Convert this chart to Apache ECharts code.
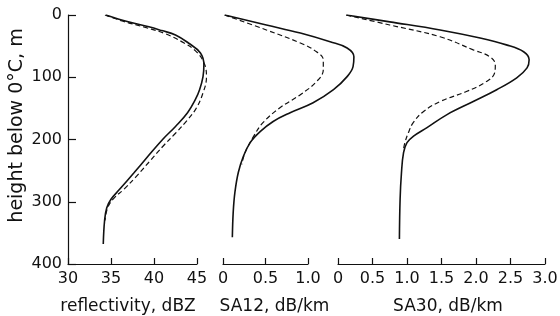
<!DOCTYPE html>
<html>
<head>
<meta charset="utf-8">
<script src="https://cdn.jsdelivr.net/npm/echarts@6/dist/echarts.min.js"></script>
<style>
  html, body { margin: 0; padding: 0; background: #fff; }
  #chart { width: 560px; height: 316px; }
</style>
</head>
<body>
<div id="chart"></div>
<script>
// height below 0°C (m) and values
var reflSolidH = [0, 11, 19, 25, 32, 45, 61, 80, 99, 120, 136, 157, 179, 200, 227, 253, 280, 296, 310, 331, 368];
var reflSolid  = [34.4, 37.0, 39.4, 40.9, 42.5, 44.0, 45.4, 45.8, 45.7, 45.3, 44.8, 43.9, 42.5, 41.0, 39.3, 37.7, 36.0, 35.0, 34.5, 34.25, 34.1];
var reflDashH  = [0, 10, 20, 30, 45, 60, 80, 100, 125, 150, 170, 190, 210, 235, 260, 280, 295, 310, 330];
var reflDash   = [34.3, 36.4, 39.0, 41.3, 43.5, 45.0, 45.9, 46.1, 45.7, 44.9, 43.8, 42.5, 41.1, 39.5, 37.9, 36.5, 35.3, 34.6, 34.3];

var sa12SolidH = [0, 16, 29, 43, 53, 67, 83, 99, 120, 141, 157, 171, 187, 205, 227, 253, 285, 317, 357];
var sa12Solid  = [0.02, 0.51, 0.91, 1.26, 1.46, 1.54, 1.53, 1.46, 1.30, 1.06, 0.79, 0.59, 0.44, 0.32, 0.24, 0.18, 0.14, 0.12, 0.11];
var sa12DashH  = [0, 24, 45, 59, 72, 88, 107, 128, 149, 173, 195, 221, 240];
var sa12Dash   = [0.02, 0.51, 0.91, 1.10, 1.18, 1.18, 1.10, 0.91, 0.67, 0.47, 0.36, 0.26, 0.22];

var sa30SolidH = [0, 11, 24, 37, 48, 59, 72, 85, 101, 120, 139, 160, 181, 195, 205, 221, 253, 296, 360];
var sa30Solid  = [0.12, 0.75, 1.48, 2.06, 2.44, 2.69, 2.77, 2.74, 2.59, 2.30, 1.96, 1.58, 1.29, 1.09, 1.00, 0.95, 0.92, 0.90, 0.89];
var sa30DashH  = [0, 16, 35, 56, 67, 80, 93, 107, 123, 139, 155, 173, 189, 205, 215];
var sa30Dash   = [0.12, 0.75, 1.48, 1.96, 2.20, 2.28, 2.27, 2.15, 1.86, 1.48, 1.24, 1.09, 1.02, 0.97, 0.95];

var heightTicks = [0, 100, 200, 300, 400];

var pairs = function(xs, hs) {
	var out = [];
	for (var i = 0; i < xs.length; i++) {
		out.push([xs[i], hs[i]]);
	}
	return out;
};

var font = 'DejaVu Sans';
var ink = '#111';

// drawn axis (with ticks, labels and name)
var xAxisShown = function(idx, min, max, step, name, pad) {
	return {
		gridIndex: idx, type: 'value', min: min, max: max, interval: step,
		name: name, nameLocation: 'middle', nameGap: 34,
		nameTextStyle: { fontFamily: font, fontSize: 17, color: ink, padding: pad },
		axisLine: { show: true, onZero: false, lineStyle: { color: ink, width: 1.2 } },
		axisTick: { show: true, inside: true, length: 6, lineStyle: { color: ink, width: 1.2 } },
		axisLabel: {
			fontFamily: font, fontSize: 16, color: ink, margin: 7,
			formatter: function(v) { return (v === 0 || step >= 1) ? String(v) : v.toFixed(1); }
		},
		splitLine: { show: false }
	};
};

// hidden axis for the plotting area, same pixel scale, wider range so curves can overshoot
var xAxisHidden = function(idx, min, max) {
	return { gridIndex: idx, type: 'value', min: min, max: max, show: false, splitLine: { show: false } };
};

var yAxisBase = function(idx, visible) {
	return {
		gridIndex: idx, type: 'value', min: heightTicks[0], max: heightTicks[heightTicks.length - 1],
		interval: 100, inverse: true, show: visible,
		name: visible ? 'height below 0°C, m' : '', nameLocation: 'middle', nameGap: 41,
		nameTextStyle: { fontFamily: font, fontSize: 19, color: ink, padding: [0, 0, 0, 28] },
		axisLine: { show: true, lineStyle: { color: ink, width: 1.2 } },
		axisTick: { show: true, inside: true, length: 8, lineStyle: { color: ink, width: 1.2 } },
		axisLabel: { fontFamily: font, fontSize: 16, color: ink, margin: 6 },
		splitLine: { show: false }
	};
};

var curve = function(idx, data, dashed) {
	return {
		type: 'line', xAxisIndex: idx, yAxisIndex: idx,
		data: data, showSymbol: false, symbol: 'none', smooth: 0.4,
		silent: true, animation: false,
		lineStyle: dashed
			? { color: ink, width: 1.2, type: [5, 3] }
			: { color: ink, width: 1.6 }
	};
};

var gridAt = function(left, width) {
	return { left: left, top: 15, width: width, height: 249, outerBoundsMode: 'none', containLabel: false };
};

var chart = echarts.init(document.getElementById('chart'), null, { renderer: 'canvas' });
chart.setOption({
	backgroundColor: '#fff',
	animation: false,
	grid: [
		gridAt(68, 129),    // reflectivity axes
		gridAt(68, 146.2),  // reflectivity plot, 30..47
		gridAt(223, 85),    // SA12 axis
		gridAt(223, 170),   // SA12 plot, 0..2
		gridAt(338, 207)    // SA30
	],
	xAxis: [
		xAxisShown(0, 30, 45, 5, 'reflectivity, dBZ', [0, 9, 0, 0]),
		xAxisHidden(1, 30, 47),
		xAxisShown(2, 0, 1, 0.5, 'SA12, dB/km', [0, 0, 0, 18]),
		xAxisHidden(3, 0, 2),
		xAxisShown(4, 0, 3, 0.5, 'SA30, dB/km', [0, 0, 0, 13])
	],
	yAxis: [yAxisBase(0, true), yAxisBase(1, false), yAxisBase(2, false), yAxisBase(3, false), yAxisBase(4, false)],
	series: [
		curve(1, pairs(reflSolid, reflSolidH), false),
		curve(1, pairs(reflDash, reflDashH), true),
		curve(3, pairs(sa12Solid, sa12SolidH), false),
		curve(3, pairs(sa12Dash, sa12DashH), true),
		curve(4, pairs(sa30Solid, sa30SolidH), false),
		curve(4, pairs(sa30Dash, sa30DashH), true)
	]
});
</script>
</body>
</html>
